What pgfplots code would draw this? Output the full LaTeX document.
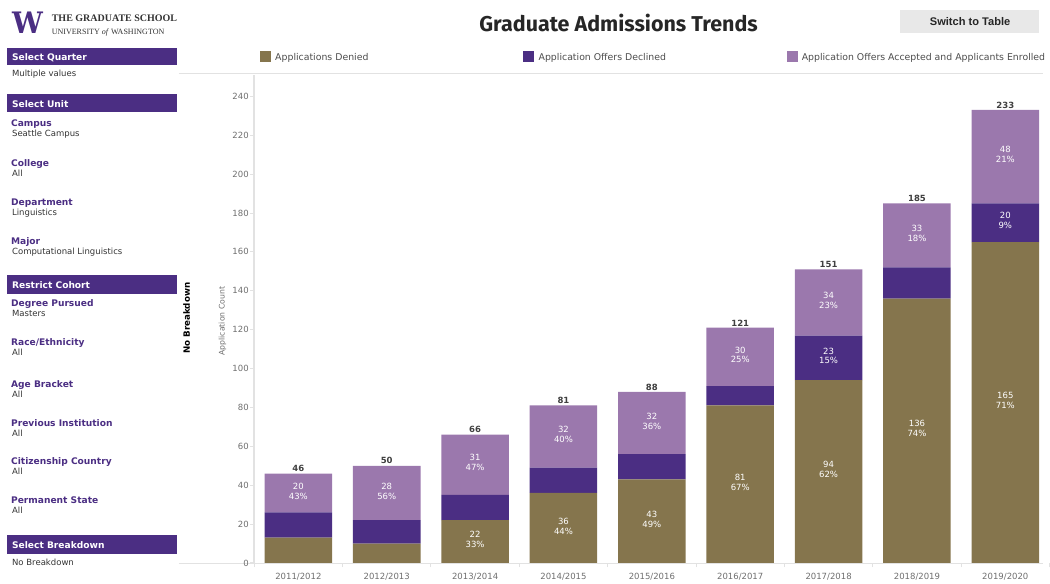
\documentclass[border=0pt]{standalone}
\usepackage{pgfplots}
\pgfplotsset{compat=1.18}
\usepackage{pgfplotstable}
\usepackage{fontspec}
\setmainfont{DejaVu Sans}
\newfontfamily\titlefont{Fira Sans}
\newfontfamily\arialfont{Liberation Sans}
\newfontfamily\seriffont{Liberation Serif}
\newfontfamily\logofont{DejaVu Serif}

\definecolor{uwpurple}{HTML}{4B2E83}
\definecolor{uwgold}{HTML}{85754D}
\definecolor{lilac}{HTML}{9B78AD}
\definecolor{valgray}{HTML}{333333}
\definecolor{tickgray}{HTML}{6E6E6E}
\definecolor{linegray}{HTML}{E2E2E2}

% denied / declined / accepted+enrolled, total
\pgfplotstableread{
x den dec acc tot
0 13 13 20 46
1 10 12 28 50
2 22 13 31 66
3 36 13 32 81
4 43 13 32 88
5 81 10 30 121
6 94 23 34 151
7 136 16 33 185
8 165 20 48 233
}\admissions

\pgfplotstableread{
x den dec acc p
0 13 13 20 43
1 10 12 28 56
2 22 13 31 47
3 36 13 32 40
4 43 13 32 36
5 81 10 30 25
6 94 23 34 23
7 136 16 33 18
8 165 20 48 21
}\acclabels

\pgfplotstableread{
x den p
2 22 33
3 36 44
4 43 49
5 81 67
6 94 62
7 136 74
8 165 71
}\denlabels

\pgfplotstableread{
x den dec p
6 94 23 15
8 165 20 9
}\declabels

\newcommand\hdrfont{\fontsize{9.2}{11}\selectfont\bfseries}
\newcommand\ttlfont{\fontsize{9.2}{11}\selectfont\bfseries}
\newcommand\valfont{\fontsize{8.6}{10}\selectfont}
\newcommand\lblfont{\fontsize{8.6}{10}\selectfont}
\newcommand\legfont{\fontsize{9.45}{11}\selectfont}

\newcommand\sidehdr[4]{%
  \fill[uwpurple] (7,#1) rectangle (178,#2);
  \node[anchor=base west, inner sep=0, text=white, font=\hdrfont] at (12,#3) {#4};}
\newcommand\filteritem[3]{%
  \node[anchor=base west, inner sep=0, text=uwpurple, font=\ttlfont] at (11,#1) {#2};
  \node[anchor=base west, inner sep=0, text=valgray, font=\valfont] at (12,#1+10) {#3};}

\pgfplotsset{chartframe/.style={
  at={(256bp,-567bp)}, anchor=south west,
  scale only axis, width=801bp, height=491.5bp,
  xmin=-0.5, xmax=8.5, ymin=0, ymax=251,
  /pgf/number format/assume math mode=true},
  seglabel/.style={draw=none, point meta=y,
  nodes near coords={\pgfmathprintnumber{\lv}\\\pgfmathprintnumber{\lp}\%},
  every node near coord/.append style={anchor=center, align=center, text=white, font=\lblfont, yshift=2bp}}}

\begin{document}
\begin{tikzpicture}
\begin{scope}[x=1bp,y=-1bp]
\useasboundingbox (0,0) rectangle (1050,581);
% logo
\node[anchor=south west, inner sep=0, text=uwpurple] at (12,34.3)
  {\resizebox{31bp}{21.7bp}{\logofont\bfseries W}};
\node[anchor=base west, inner sep=0, text=valgray, font=\seriffont\bfseries\fontsize{10.1}{11}\selectfont] at (52,21.7) {THE GRADUATE SCHOOL};
\node[anchor=base west, inner sep=0, text=valgray, font=\seriffont\fontsize{8.1}{9}\selectfont] at (52,34.3) {UNIVERSITY \textit{of} WASHINGTON};
% filters
\sidehdr{48.3}{65.7}{61.2}{Select Quarter}
\node[anchor=base west, inner sep=0, text=valgray, font=\valfont] at (12,77.3) {Multiple values};
\sidehdr{94.3}{113.3}{108.3}{Select Unit}
\filteritem{127}{Campus}{Seattle Campus}
\filteritem{167.5}{College}{All}
\filteritem{206.7}{Department}{Linguistics}
\filteritem{246}{Major}{Computational Linguistics}
\sidehdr{276.7}{295.7}{291}{Restrict Cohort}
\filteritem{309}{Degree Pursued}{Masters}
\filteritem{348.3}{Race/Ethnicity}{All}
\filteritem{390}{Age Bracket}{All}
\filteritem{429.3}{Previous Institution}{All}
\filteritem{468.3}{Citizenship Country}{All}
\filteritem{507.3}{Permanent State}{All}
\sidehdr{539}{557.7}{552.7}{Select Breakdown}
\node[anchor=base west, inner sep=0, text=valgray, font=\valfont] at (12,570) {No Breakdown};
% title and button
\node[anchor=base, inner sep=0, text=black!85, font=\titlefont\bfseries\fontsize{21.7}{24}\selectfont] at (623,31.5) {Graduate Admissions Trends};
\fill[black!9] (906,10) rectangle (1046,33.3);
\node[anchor=center, inner sep=0, text=black!85, font=\arialfont\bfseries\fontsize{11.2}{13}\selectfont] at (977,21.7) {Switch to Table};
% legend
\fill[uwgold] (261.7,51.7) rectangle (272.7,62.7);
\node[anchor=base west, inner sep=0, text=black!70, font=\legfont] at (277,61) {Applications Denied};
\fill[uwpurple] (526.7,51.7) rectangle (537.7,62.7);
\node[anchor=base west, inner sep=0, text=black!70, font=\legfont] at (542.3,61) {Application Offers Declined};
\fill[lilac] (792.3,51.7) rectangle (803.3,62.7);
\node[anchor=base west, inner sep=0, text=black!70, font=\legfont] at (807.3,61) {Application Offers Accepted and Applicants Enrolled};
\draw[linegray, line width=1bp] (180,74.5) -- (1050,74.5);
% axis side titles
\node[rotate=90, anchor=center, inner sep=0, text=black, font=\fontsize{8.8}{10}\selectfont\bfseries] at (188,320.5) {No Breakdown};
\node[rotate=90, anchor=center, inner sep=0, text=tickgray, font=\fontsize{7.8}{9}\selectfont] at (224,323.5) {Application Count};
\draw[linegray, line width=1.5bp] (180,567.5) -- (1050,567.5);
\end{scope}

\begin{axis}[chartframe,
  ybar stacked, bar width=0.764,
  axis y line*=left, axis x line*=bottom,
  y axis line style={draw=linegray, line width=1.5bp, -},
  x axis line style={draw=none, -},
  tick align=outside, major tick length=4.5bp,
  ytick={0,20,...,240},
  yticklabel style={font=\lblfont, text=tickgray, xshift=2.5bp},
  ytick style={draw=linegray, line width=1bp},
  xtick={-0.5,0.5,...,8.5}, x tick label as interval,
  xticklabels={2011/2012,2012/2013,2013/2014,2014/2015,2015/2016,2016/2017,2017/2018,2018/2019,2019/2020},
  xticklabel style={font=\lblfont, text=tickgray, yshift=-2bp},
  xtick style={draw=linegray, line width=1bp},
  minor tick num=0,
]
\addplot[fill=uwgold, draw=none] table[x=x, y=den] {\admissions};
\addplot[fill=uwpurple, draw=none] table[x=x, y=dec] {\admissions};
\addplot[fill=lilac, draw=none] table[x=x, y=acc] {\admissions};
\end{axis}

\begin{axis}[chartframe, hide axis, clip=false]
\addplot[seglabel,
  visualization depends on={\thisrow{acc} \as \lv},
  visualization depends on={\thisrow{p} \as \lp}]
  table[x=x, y expr=\thisrow{den}+\thisrow{dec}+0.5*\thisrow{acc}] {\acclabels};
\addplot[seglabel,
  visualization depends on={\thisrow{den} \as \lv},
  visualization depends on={\thisrow{p} \as \lp}]
  table[x=x, y expr=0.5*\thisrow{den}] {\denlabels};
\addplot[seglabel,
  visualization depends on={\thisrow{dec} \as \lv},
  visualization depends on={\thisrow{p} \as \lp}]
  table[x=x, y expr=\thisrow{den}+0.5*\thisrow{dec}] {\declabels};
\addplot[draw=none, point meta=y,
  nodes near coords={\pgfmathprintnumber{\pgfplotspointmeta}},
  every node near coord/.append style={anchor=south, inner sep=0.5bp, yshift=1bp, text=black!75, font=\lblfont\bfseries}]
  table[x=x, y=tot] {\admissions};
\end{axis}
\end{tikzpicture}
\end{document}
